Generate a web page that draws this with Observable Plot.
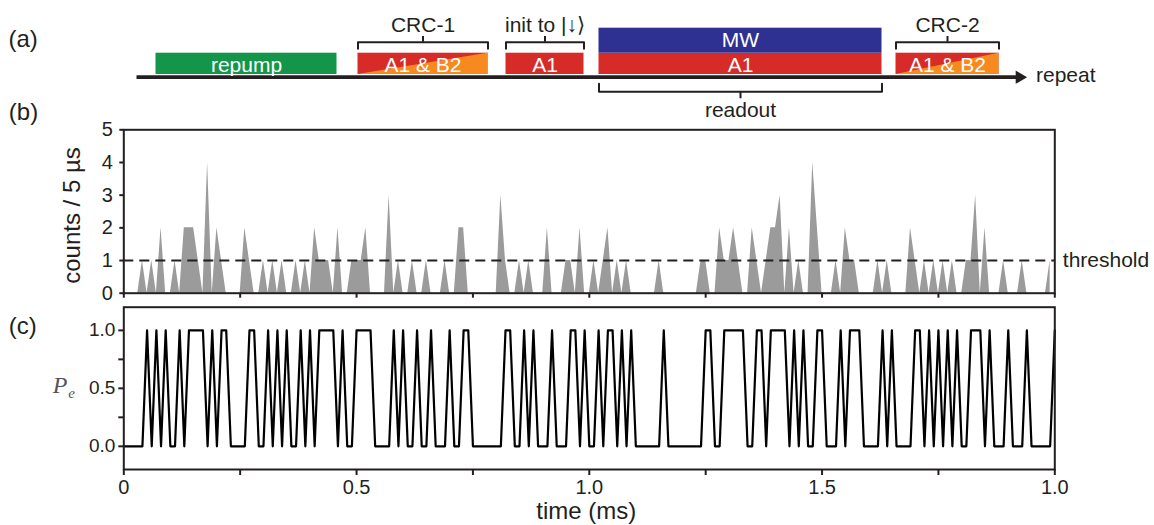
<!DOCTYPE html>
<html><head><meta charset="utf-8">
<script src="https://cdn.jsdelivr.net/npm/d3@7"></script>
<script src="https://cdn.jsdelivr.net/npm/@observablehq/plot@0.6"></script>
<style>
html,body{margin:0;padding:0;background:#fff;}
#fig{position:relative;width:1154px;height:525px;overflow:hidden;background:#fff;}
#fig svg{position:absolute;left:0;overflow:visible;}
</style></head><body><div id="fig"></div>
<script>
// ---------- data: panel (b) photon counts per bin, panel (c) excited-state flag ----------
const binWidth = 0.01; // ms between samples
const counts = [
0,0,0,0,1,0,1,0,2,0, 0,1,0,2,2,2,1,0,4,0, 2,1,0,0,0,0,2,1,0,0, 1,0,1,0,1,0,0,1,0,1,
0,2,1,1,1,0,2,0,0,1, 1,1,2,0,0,0,0,3,0,1, 0,0,1,0,0,1,0,0,0,1, 0,0,2,2,0,0,0,0,0,0,
0,3,1,0,0,1,0,1,0,0, 0,2,0,0,0,1,1,0,2,0, 0,1,0,1,2,0,1,0,1,0, 0,0,0,0,0,1,0,0,0,0,
0,0,0,0,1,1,0,0,2,1, 1,2,1,0,0,2,1,0,1,2, 2,3,0,2,0,1,0,0,4,2, 0,0,0,1,0,2,1,1,0,0,
0,0,1,0,1,0,0,0,0,2, 1,0,1,0,1,0,1,0,1,0, 0,1,1,3,0,2,0,0,0,1, 0,0,0,1,0,0,0,0,0,1];
const pe = [
0,0,0,0,0,1,0,1,0,1, 0,0,1,0,1,1,1,1,0,1, 0,1,1,0,0,0,0,1,1,0, 0,1,0,1,0,1,0,0,1,0,
1,0,1,1,1,1,0,1,0,0, 1,1,1,1,0,0,0,0,1,0, 1,0,0,1,0,0,1,0,0,0, 1,0,0,1,1,0,0,0,0,0,
0,0,1,1,0,0,1,0,1,0, 0,0,1,0,0,0,1,1,0,1, 0,0,1,0,1,1,0,1,0,1, 0,0,0,0,0,0,1,0,0,0,
0,0,0,0,0,1,1,0,0,1, 1,1,1,1,0,0,1,1,0,1, 1,1,1,0,1,0,1,0,0,1, 1,0,0,0,1,0,1,1,1,0,
0,0,0,1,0,1,0,0,0,0, 1,1,0,1,0,1,0,1,0,1, 0,0,1,1,1,0,1,0,0,0, 1,0,0,0,1,0,0,0,0,0, 1];
const threshold = 1;
const countTicks = [0, 1, 2, 3, 4, 5];
const countTickLabels = ["0", "1", "2", "3", "4", "5"];
const xTicks = [0, 0.25, 0.5, 0.75, 1, 1.25, 1.5, 1.75, 2];
const xTickLabels = ["0", "", "0.5", "", "1.0", "", "1.5", "", "1.0"];
const peTicks = [0, 0.25, 0.5, 0.75, 1];
const peTickLabels = ["0.0", "", "0.5", "", "1.0"];

// ---------- data: panel (a) pulse sequence (schematic time units) ----------
const pulseNames = ["repump", "A1 & B2", "A1", "A1", "A1 & B2"];
const pulseKinds = ["repump", "crc", "A1", "A1", "crc"];
const pulseStart = [0.19, 2.21, 3.69, 4.62, 7.59];
const pulseEnd   = [2.00, 3.51, 4.47, 7.45, 8.62];
const mwNames = ["MW"];
const mwStart = [4.62];
const mwEnd   = [7.45];
const groupLabels = ["CRC-1", "init to |\u2193\u27E9", "CRC-2"];
const groupStart = [2.21, 3.69, 7.59];
const groupEnd   = [3.51, 4.47, 8.62];
const readoutLabels = ["readout"];
const readoutStart = [4.62];
const readoutEnd   = [7.45];
const sequenceEnd = 8.9;
const repeatLabel = "repeat";

// ---------- styles ----------
const ink = "#231f20";
const sans = "'Liberation Sans', Arial, Helvetica, sans-serif";
const serif = "'Liberation Serif', 'DejaVu Serif', serif";
const laserColor = {repump: "#13964a", crc: "#d72b28", A1: "#d72b28"};
const orange = "#f68a1f";
const mwBlue = "#2e3192";
const baseStyle = (top) => ({position: "absolute", top: top + "px", left: "0px",
  background: "transparent", overflow: "visible", fontFamily: sans, color: ink});
const fig = document.getElementById("fig");

// ---------- panel (a) ----------
const pIdx = d3.range(pulseNames.length);
const gIdx = d3.range(groupLabels.length);
const mIdx = d3.range(mwNames.length);
const rIdx = d3.range(readoutLabels.length);
const crcTri = pIdx.filter(i => pulseKinds[i] === "crc")
  .flatMap(i => [{x: pulseStart[i], y: 0, id: i}, {x: pulseEnd[i], y: 1, id: i}]);
const upBracket = gIdx.flatMap(i => [
  {x: groupStart[i], y: 1.207, id: i}, {x: groupStart[i], y: 1.516, id: i},
  {x: groupEnd[i], y: 1.516, id: i}, {x: groupEnd[i], y: 1.207, id: i}]);
const downBracket = rIdx.flatMap(i => [
  {x: readoutStart[i], y: -0.437, id: i}, {x: readoutStart[i], y: -0.812, id: i},
  {x: readoutEnd[i], y: -0.812, id: i}, {x: readoutEnd[i], y: -0.437, id: i}]);

const A = Plot.plot({
  width: 1154, height: 125, margin: 0,
  x: {domain: [-1.365, 10.175], axis: null},
  y: {domain: [-2.394, 3.474], axis: null},
  color: {type: "identity"},
  style: baseStyle(0),
  marks: [
    Plot.ruleY([-0.127], {x1: 0, x2: sequenceEnd - 0.08, stroke: ink, strokeWidth: 3.7}),
    Plot.dot([sequenceEnd], {x: d => d, y: -0.127, symbol: "triangle", r: 4.9, rotate: 90, dx: -7.5, fill: ink, stroke: "none"}),
    Plot.rect(pIdx, {x1: i => pulseStart[i], x2: i => pulseEnd[i], y1: 0, y2: 1, fill: i => laserColor[pulseKinds[i]]}),
    Plot.areaY(crcTri, {x: "x", y1: 0, y2: "y", z: "id", fill: orange, curve: "linear"}),
    Plot.rect(mIdx, {x1: i => mwStart[i], x2: i => mwEnd[i], y1: 1, y2: 2.174, fill: mwBlue}),
    Plot.text(pIdx, {x: i => (pulseStart[i] + pulseEnd[i]) / 2, y: 0.45, text: i => pulseNames[i], fill: "white", fontSize: 21}),
    Plot.text(mIdx, {x: i => (mwStart[i] + mwEnd[i]) / 2, y: 1.6, text: i => mwNames[i], fill: "white", fontSize: 21}),
    Plot.line(upBracket, {x: "x", y: "y", z: "id", stroke: ink, strokeWidth: 2, curve: "linear"}),
    Plot.ruleX(gIdx, {x: i => (groupStart[i] + groupEnd[i]) / 2, y1: 1.516, y2: 1.784, stroke: ink, strokeWidth: 2}),
    Plot.text(gIdx, {x: i => (groupStart[i] + groupEnd[i]) / 2, y: 2.30, text: i => groupLabels[i], fill: ink, fontSize: 21}),
    Plot.line(downBracket, {x: "x", y: "y", z: "id", stroke: ink, strokeWidth: 2, curve: "linear"}),
    Plot.ruleX(rIdx, {x: i => (readoutStart[i] + readoutEnd[i]) / 2, y1: -0.812, y2: -1.14, stroke: ink, strokeWidth: 2}),
    Plot.text(rIdx, {x: i => (readoutStart[i] + readoutEnd[i]) / 2, y: -1.69, text: i => readoutLabels[i], fill: ink, fontSize: 21}),
    Plot.text([repeatLabel], {x: sequenceEnd, y: -0.05, dx: 9, textAnchor: "start", lineAnchor: "middle", fill: ink, fontSize: 21}),
    Plot.text(["(a)"], {frameAnchor: "top-left", dx: 8, dy: 39, textAnchor: "start", lineAnchor: "middle", fill: ink, fontSize: 24})
  ]
});
fig.appendChild(A);

// ---------- panel (b) ----------
const cIdx = d3.range(counts.length);
const B = Plot.plot({
  width: 1154, height: 210, marginTop: 29.3, marginBottom: 17.3, marginLeft: 123.3, marginRight: 99.7,
  x: {domain: [0, 2]},
  y: {domain: [0, 5]},
  style: baseStyle(100),
  marks: [
    Plot.areaY(cIdx, {x: i => i * binWidth, y: i => counts[i], fill: "#9b9b9b", curve: "linear"}),
    Plot.ruleY([threshold], {stroke: ink, strokeWidth: 2, strokeDasharray: "10,6"}),
    Plot.frame({stroke: ink, strokeWidth: 2}),
    Plot.axisX({ticks: xTicks, tickFormat: () => "", tickSize: 5, strokeWidth: 2, label: null}),
    Plot.axisY({ticks: countTicks, tickFormat: () => "", tickSize: 4, strokeWidth: 2, label: null}),
    Plot.text(countTicks, {y: d => d, text: (d, i) => countTickLabels[i], frameAnchor: "left", dx: -11, textAnchor: "end", lineAnchor: "middle", fill: ink, fontSize: 20}),
    Plot.text(["counts / 5 \u00B5s"], {frameAnchor: "left", dx: -51, dy: 4, rotate: -90, textAnchor: "middle", lineAnchor: "middle", fill: ink, fontSize: 24}),
    Plot.text(["threshold"], {x: 2, y: threshold, dx: 8, textAnchor: "start", lineAnchor: "middle", fill: ink, fontSize: 21}),
    Plot.text(["(b)"], {frameAnchor: "top-left", dx: -115, dy: -17, textAnchor: "start", lineAnchor: "middle", fill: ink, fontSize: 24})
  ]
});
fig.appendChild(B);

// ---------- panel (c) ----------
const xLabel = new Map(xTicks.map((t, i) => [t, xTickLabels[i]]));
const peLabel = new Map(peTicks.map((t, i) => [t, peTickLabels[i]]));
const eIdx = d3.range(pe.length);
const C = Plot.plot({
  width: 1154, height: 225, marginTop: 6.7, marginBottom: 56, marginLeft: 123.3, marginRight: 99.7,
  x: {domain: [0, 2]},
  y: {domain: [-0.2, 1.2]},
  style: baseStyle(300),
  marks: [
    Plot.line(eIdx, {x: i => i * binWidth, y: i => pe[i], stroke: "#000", strokeWidth: 2.2, curve: "linear"}),
    Plot.frame({stroke: ink, strokeWidth: 2}),
    Plot.axisX({ticks: xTicks, tickFormat: d => xLabel.get(d) ?? "", tickSize: 6, tickPadding: 4, fontSize: 20, strokeWidth: 2, label: null, fill: ink}),
    Plot.axisY({ticks: peTicks, tickFormat: d => peLabel.get(d) ?? "", tickSize: 5, tickPadding: 3.5, fontSize: 19, strokeWidth: 2, label: null, fill: ink}),
    Plot.text(["time (ms)"], {frameAnchor: "bottom", dx: -3, dy: 42, textAnchor: "middle", lineAnchor: "middle", fill: ink, fontSize: 24}),
    Plot.text(["P"], {frameAnchor: "left", dx: -71, dy: -3, textAnchor: "start", lineAnchor: "middle", fontFamily: serif, fontStyle: "italic", fontSize: 24, fill: "#555"}),
    Plot.text(["e"], {frameAnchor: "left", dx: -55.5, dy: 4.5, textAnchor: "start", lineAnchor: "middle", fontFamily: serif, fontStyle: "italic", fontSize: 15, fill: "#555"}),
    Plot.text(["(c)"], {frameAnchor: "top-left", dx: -115, dy: 19.3, textAnchor: "start", lineAnchor: "middle", fill: ink, fontSize: 24})
  ]
});
fig.appendChild(C);
</script></body></html>
